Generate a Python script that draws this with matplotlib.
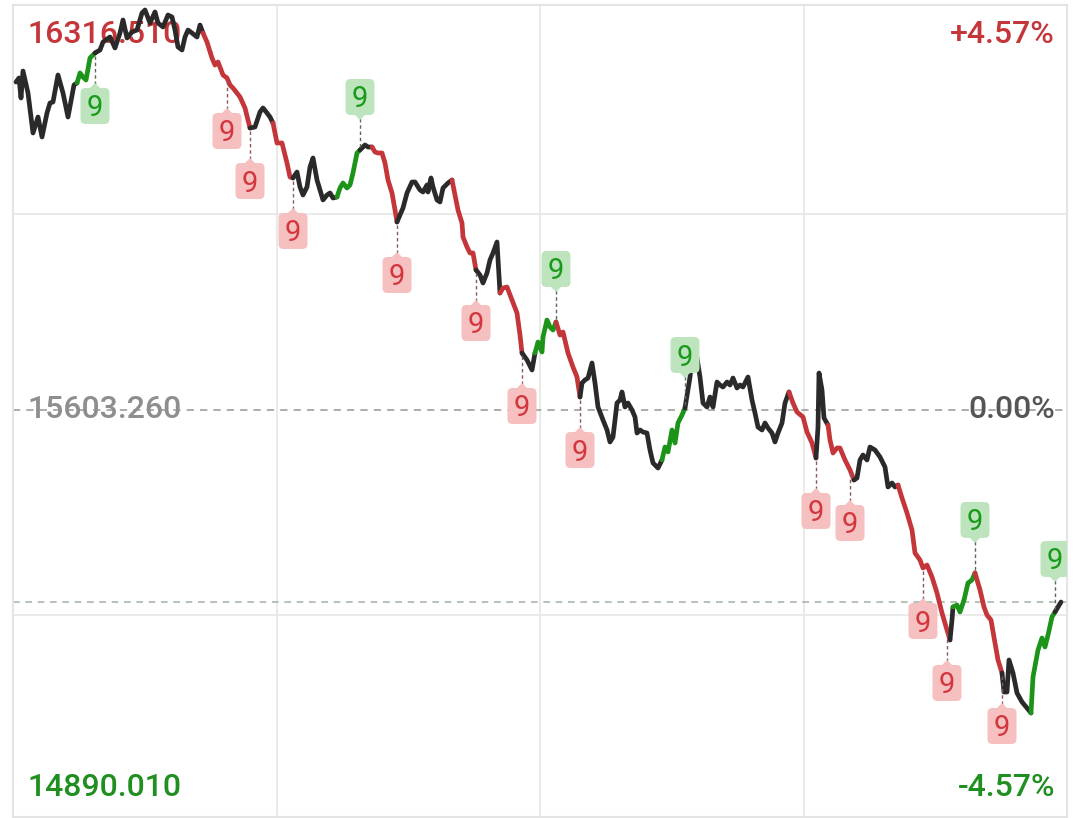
import matplotlib
matplotlib.use("Agg")
import matplotlib.pyplot as plt
from matplotlib import transforms as mtransforms
from matplotlib.patches import FancyBboxPatch, Polygon
from matplotlib.lines import Line2D

plt.rcParams['font.family'] = ['Roboto', 'DejaVu Sans']

# ---------------- data ----------------
prev_close = 15603.26
axis_high = 16316.51
axis_low = 14890.01
pct_labels = ["+4.57%", "0.00%", "-4.57%"]

# time position of each sample (full session width = 1054)
t = [3, 6, 8, 10, 15, 20, 25, 29, 34, 37, 40, 45, 50, 55, 61, 64,
     67, 70, 73, 77, 82,
     87, 90, 97, 102, 107, 110, 114, 119, 124, 129, 132, 137, 142, 145, 150, 155, 159, 162, 165, 169, 172, 175, 179, 184, 187, 190,
     194, 199, 202, 205, 210, 214, 217, 220, 227, 232, 237,
     242, 247, 250, 254, 257, 260,
     264, 269, 274, 277, 280,
     284, 287, 290, 294, 297, 300, 304, 307, 310, 314, 317, 320, 324,
     327, 330, 334, 337, 340, 344, 347,
     352, 355, 359,
     362, 365, 369, 372, 375, 379, 382, 384,
     387, 390, 394, 399, 402, 407, 410, 414, 415, 418, 420, 424, 427, 430, 435, 439,
     442, 445, 449, 450, 454, 457, 460, 463,
     467, 470, 474, 477, 480, 484, 487,
     490, 494, 499, 504, 507, 509,
     514, 519, 522,
     525, 529, 530, 534, 537, 540, 543,
     547, 550, 555, 560, 564, 567,
     569, 572, 575, 579, 582, 585, 590, 594, 597, 600, 604, 607, 609, 612, 615, 619, 622, 624, 627, 630, 634, 637, 640, 645, 649,
     652, 655, 659, 662, 665, 669, 672,
     677, 680, 684, 687, 690, 694, 697, 700, 704, 707, 710, 714, 717, 720, 724, 727, 730, 735, 739, 742, 745, 749, 752, 755, 759, 762, 765, 769, 772, 776,
     780, 784, 790, 794, 799, 803,
     805, 806, 809, 811, 815,
     817, 820, 824, 827, 832, 837, 841,
     844, 847, 850, 854, 857, 862, 867, 872, 875, 879, 882, 885,
     889, 894, 899, 902, 907, 910, 914, 919, 924, 929, 934, 937,
     939, 940,
     944, 947, 951, 955, 959, 962,
     967, 971, 974, 978, 982, 985, 989,
     991, 994, 996, 1000, 1004, 1009, 1014, 1018,
     1020, 1025, 1029, 1032, 1035, 1039, 1042,
     1045, 1048]

price = [16188.1, 16195.3, 16159.6, 16207.7, 16168.5, 16097.2, 16125.7, 16090.1, 16132.9, 16150.7, 16152.5, 16200.6, 16168.5, 16125.7, 16182.8, 16186.4,
         16204.2, 16197.0, 16191.7, 16230.9, 16239.9,
         16245.2, 16259.4, 16268.4, 16248.8, 16275.5, 16298.7, 16266.6, 16277.3, 16280.8, 16311.2, 16316.5, 16293.3, 16313.0, 16293.3, 16286.2, 16307.6, 16304.0, 16280.8, 16250.6, 16245.2, 16268.4, 16280.8, 16275.5, 16268.4, 16289.8, 16275.5,
         16259.4, 16230.9, 16218.4, 16223.8, 16200.6, 16195.3, 16182.8, 16177.4, 16161.4, 16141.8, 16106.1,
         16107.9, 16134.6, 16141.8, 16132.9, 16125.7, 16115.0,
         16079.4, 16079.4, 16043.7, 16018.7, 16017.0,
         16027.6, 16000.9, 15986.6, 16000.9, 16036.6, 16052.6, 16013.4, 15995.6, 15977.8, 15986.6, 15990.2, 15981.3, 15983.1,
         15999.1, 16008.0, 15999.1, 16004.5, 16025.9, 16061.5, 16066.9,
         16075.8, 16072.2, 16072.2,
         16063.3, 16061.5, 16061.5, 16043.7, 16013.4, 15990.2, 15959.9, 15938.5,
         15951.0, 15963.5, 15990.2, 16009.8, 16009.8, 15995.6, 15992.0, 16004.5, 15992.0, 16017.0, 16000.9, 15977.8, 15974.2, 15999.1, 16008.0, 16013.4,
         15986.6, 15959.9, 15936.7, 15911.8, 15893.9, 15883.2, 15883.2, 15852.9,
         15844.0, 15829.7, 15847.6, 15870.7, 15883.2, 15902.8, 15811.9,
         15820.8, 15822.6, 15799.4, 15776.2, 15737.0, 15704.9,
         15692.4, 15674.6, 15704.9,
         15724.5, 15706.7, 15733.4, 15763.7, 15751.3, 15745.9, 15760.2,
         15737.0, 15742.3, 15704.9, 15679.9, 15662.1, 15626.4,
         15651.4, 15656.8, 15660.3, 15687.1, 15651.4, 15608.6, 15585.4, 15567.6, 15546.2, 15555.1, 15615.7, 15621.1, 15635.4, 15608.6, 15615.7, 15603.3, 15590.8, 15562.2, 15567.6, 15564.0, 15562.2, 15531.9, 15508.8, 15499.8, 15514.1,
         15537.3, 15528.4, 15567.6, 15544.4, 15580.1, 15594.3, 15606.8,
         15662.1, 15704.9, 15696.0, 15662.1, 15615.7, 15608.6, 15626.4, 15608.6, 15653.2, 15647.8, 15644.3, 15653.2, 15647.8, 15660.3, 15642.5, 15647.8, 15644.3, 15662.1, 15621.1, 15597.9, 15572.9, 15567.6, 15580.1, 15571.2, 15562.2, 15546.2, 15562.2, 15580.1, 15615.7, 15635.4,
         15615.7, 15599.7, 15590.8, 15564.0, 15544.4, 15517.7,
         15572.9, 15669.2, 15638.9, 15589.0, 15576.5,
         15549.8, 15526.6, 15535.5, 15535.5, 15514.1, 15496.3, 15478.4,
         15482.0, 15514.1, 15523.0, 15514.1, 15537.3, 15531.9, 15519.5, 15501.6, 15466.0, 15473.1, 15466.0, 15469.5,
         15446.4, 15419.6, 15389.3, 15348.3, 15335.8, 15321.5, 15326.9, 15305.5, 15277.0, 15241.3, 15211.0, 15193.2,
         15228.8, 15252.0,
         15255.6, 15243.1, 15264.5, 15294.8, 15300.2, 15312.7,
         15282.3, 15252.0, 15237.7, 15228.8, 15187.8, 15157.5, 15134.3,
         15100.4, 15100.4, 15157.5, 15134.3, 15098.7, 15082.6, 15071.9, 15063.0,
         15127.2, 15175.3, 15196.7, 15180.7, 15202.1, 15234.2, 15243.1,
         15252.0, 15260.9]

# colour runs of the line (flat = no sequence, down = sell setup, up = buy setup)
run_trend = ['flat', 'up', 'flat', 'down', 'flat', 'down', 'flat', 'up', 'flat', 'down',
             'flat', 'down', 'flat', 'down', 'flat', 'up', 'down', 'flat', 'up', 'flat',
             'down', 'flat', 'down', 'flat', 'down', 'flat', 'up', 'down', 'flat', 'up', 'flat']
run_length = [16, 5, 26, 11, 6, 5, 13, 7, 3, 8,
              16, 8, 7, 6, 3, 7, 6, 25, 7, 30,
              6, 5, 7, 12, 12, 2, 6, 7, 8, 7, 2]

# "9" signals: time position and direction
nine_t = [82, 214, 237, 280, 347, 384, 463, 509, 543, 567, 672, 803, 837, 910, 934, 962, 989, 1042]
nine_trend = ['up', 'down', 'down', 'down', 'up', 'down', 'down', 'down', 'up', 'down',
              'up', 'down', 'down', 'down', 'down', 'up', 'down', 'up']

# ---------------- figure ----------------
fig = plt.figure(figsize=(10.8, 8.18), dpi=100)
ax = fig.add_axes([13 / 1080, 1 / 818, 1054 / 1080, 812.5 / 818])

span_px = 800.0
per_px = (axis_high - axis_low) / span_px
y_top = axis_high + 5.5 * per_px
y_bot = axis_low - 7 * per_px
ax.set_ylim(y_bot, y_top)
ax.set_xlim(0, 1054)
ax.set_xticks([])
ax.set_yticks([])
for sp in ax.spines.values():
    sp.set_color('#e4e4e4')
    sp.set_linewidth(1.5)

grid_c = '#e6e6e6'
for fx in (0.25, 0.5, 0.75):
    ax.axvline(1054 * fx, color=grid_c, lw=1.2, zorder=0)
for fy in (0.2486, 0.742):
    ax.axhline(y_bot + fy * (y_top - y_bot), color=grid_c, lw=1.2, zorder=0)

ax.axhline(prev_close, color='#a6a6a6', lw=1.3, dashes=(4.0, 3.4), zorder=1)
ax.axhline(price[-1], color='#a9b8a9', lw=1.2, dashes=(4.0, 3.4), zorder=1)

# ---------------- line ----------------
line_c = {'flat': '#2a2a2a', 'down': '#c4363a', 'up': '#1c9419'}
n_tot = min(len(t), len(price))
start = 0
for kind, n in zip(run_trend, run_length):
    s = max(start - 1, 0)
    e = min(start + n, n_tot)
    if e - s >= 1:
        ax.plot(t[s:e], price[s:e], color=line_c[kind], lw=3.4,
                solid_capstyle='round', solid_joinstyle='round', zorder=3)
    start = start + n

# ---------------- "9" tags ----------------
box_fc = {'down': '#f6c0c0', 'up': '#bde4bd'}
txt_c = {'down': '#d2373d', 'up': '#1a9a1a'}
conn_c = {'down': '#8a5a5a', 'up': '#5a6a5a'}
w, h, off = 0.29, 0.36, 0.53
for tt, kind in zip(nine_t, nine_trend):
    if tt not in t:
        continue
    p = price[t.index(tt)]
    if kind == 'up' and (axis_high - p) > 0.1 * (axis_high - axis_low):
        sgn = 1
    else:
        sgn = -1
    tr = fig.dpi_scale_trans + mtransforms.ScaledTranslation(tt, p, ax.transData)
    cy = sgn * off
    edge = cy - sgn * h / 2
    ax.add_line(Line2D([0, 0], [sgn * 0.03, edge + sgn * 0.04], transform=tr,
                       color=conn_c[kind], lw=1.0, ls=(0, (2.5, 2.0)), zorder=4))
    ax.add_patch(FancyBboxPatch((-w / 2, cy - h / 2), w, h,
                                boxstyle="round,pad=0,rounding_size=0.05",
                                transform=tr, fc=box_fc[kind], ec='none', zorder=5))
    ax.add_patch(Polygon([(-0.06, edge + sgn * 0.01), (0.06, edge + sgn * 0.01), (0, edge - sgn * 0.05)],
                         closed=True, transform=tr, fc=box_fc[kind], ec='none', zorder=5))
    ax.text(0, cy - 0.105, '9', transform=tr, ha='center', va='baseline',
            fontsize=21, color=txt_c[kind], zorder=6)

# ---------------- labels ----------------
lx = 14 / 1054
rx = 1042 / 1054
fs = 23
ax.text(lx, 0.9625, f"{axis_high:.3f}", transform=ax.transAxes, ha='left', va='center',
        fontsize=fs, color='#c4363a', fontweight='medium', zorder=2)
ax.text(lx, 0.501, f"{prev_close:.3f}", transform=ax.transAxes, ha='left', va='center',
        fontsize=fs, color='#8e8e8e', fontweight='medium', zorder=2)
ax.text(lx, 0.0357, f"{axis_low:.3f}", transform=ax.transAxes, ha='left', va='center',
        fontsize=fs, color='#1f8f1f', fontweight='medium', zorder=2)
ax.text(rx, 0.9625, pct_labels[0], transform=ax.transAxes, ha='right', va='center',
        fontsize=fs, color='#c4363a', fontweight='medium', zorder=2)
ax.text(rx, 0.501, pct_labels[1], transform=ax.transAxes, ha='right', va='center',
        fontsize=fs, color='#555555', fontweight='medium', zorder=2)
ax.text(rx, 0.0357, pct_labels[2], transform=ax.transAxes, ha='right', va='center',
        fontsize=fs, color='#1f8f1f', fontweight='medium', zorder=2)

fig.savefig('out.png', dpi=100)
